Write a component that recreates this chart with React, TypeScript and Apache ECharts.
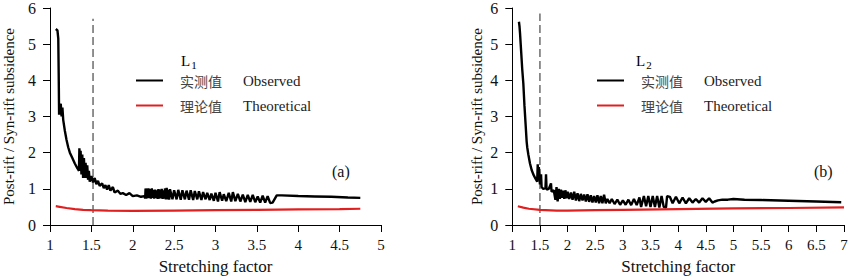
import React, { useEffect, useRef } from "react";
import * as echarts from "echarts";

// ---- data ----
const observedL1: [number, number][] = [
  [1.07, 5.42], [1.09, 5.38], [1.10, 5.15], [1.105, 4.2], [1.11, 3.05], [1.12, 3.3], [1.13, 3.35], [1.14, 3.0],
  [1.15, 3.25], [1.16, 2.9], [1.18, 2.6], [1.20, 2.35], [1.22, 2.15], [1.24, 2.0], [1.27, 1.85], [1.30, 1.7],
  [1.33, 1.57], [1.35, 1.5], [1.355, 2.12], [1.365, 1.75], [1.37, 2.05], [1.38, 1.4], [1.39, 1.95], [1.40, 1.3],
  [1.41, 1.85], [1.42, 1.3], [1.43, 1.72], [1.44, 1.3], [1.45, 1.65], [1.46, 1.25], [1.47, 1.5], [1.48, 1.2],
  [1.5, 1.35], [1.52, 1.18], [1.54, 1.3], [1.56, 1.13], [1.58, 1.22], [1.60, 1.08], [1.63, 1.15], [1.65, 1.02],
  [1.67, 1.1], [1.69, 0.98], [1.71, 1.1], [1.73, 0.95], [1.76, 1.05], [1.78, 0.9], [1.82, 0.95], [1.85, 0.86],
  [1.88, 0.88], [1.92, 0.83], [1.96, 0.88], [2.0, 0.8], [2.05, 0.82], [2.1, 0.78], [2.14, 0.8],
  [2.15, 0.74], [2.155, 1.01], [2.165, 0.73], [2.17, 1.01], [2.18, 0.75], [2.19, 1.01], [2.2, 0.74], [2.21, 0.99],
  [2.22, 0.73], [2.23, 1.01], [2.24, 0.75], [2.25, 0.97], [2.26, 0.73], [2.27, 0.98], [2.28, 0.75], [2.29, 0.96],
  [2.3, 0.72], [2.31, 0.99], [2.32, 0.73], [2.33, 0.98], [2.34, 0.74], [2.35, 1.0], [2.36, 0.72], [2.37, 0.96],
  [2.38, 0.73], [2.39, 1.01], [2.40, 0.71], [2.41, 1.03], [2.42, 0.71], [2.43, 0.97], [2.44, 0.7], [2.45, 0.99],
  [2.48, 0.71], [2.5, 0.96], [2.53, 0.71], [2.55, 0.97], [2.58, 0.7], [2.6, 0.96], [2.63, 0.71], [2.65, 0.95],
  [2.68, 0.7], [2.7, 0.96], [2.73, 0.69], [2.75, 0.94], [2.78, 0.71], [2.8, 0.93], [2.83, 0.69], [2.85, 0.91],
  [2.88, 0.71], [2.9, 0.89], [2.93, 0.69], [2.95, 0.87], [2.98, 0.67], [3.0, 0.89], [3.03, 0.65], [3.05, 0.91],
  [3.08, 0.67], [3.1, 0.85], [3.13, 0.66], [3.16, 0.89], [3.19, 0.65], [3.21, 0.91], [3.24, 0.66], [3.27, 0.86],
  [3.3, 0.65], [3.33, 0.84], [3.36, 0.63], [3.39, 0.83], [3.42, 0.64], [3.45, 0.83], [3.48, 0.63], [3.51, 0.79],
  [3.54, 0.62], [3.57, 0.81], [3.6, 0.62], [3.63, 0.8], [3.66, 0.61], [3.69, 0.62], [3.74, 0.82], [3.8, 0.82],
  [4.0, 0.8], [4.2, 0.79], [4.4, 0.78], [4.6, 0.76], [4.75, 0.75],
];
const theoreticalL1: [number, number][] = [
  [1.07, 0.52], [1.1, 0.51], [1.2, 0.47], [1.3, 0.44], [1.4, 0.42], [1.5, 0.41], [1.7, 0.4], [2.0, 0.39],
  [2.5, 0.4], [3.0, 0.41], [3.5, 0.42], [4.0, 0.43], [4.5, 0.44], [4.75, 0.45],
];
const observedL2: [number, number][] = [
  [1.12, 5.62], [1.13, 5.5], [1.14, 5.3], [1.16, 4.8], [1.18, 4.3], [1.2, 3.9], [1.22, 3.3], [1.24, 2.8],
  [1.26, 2.3], [1.27, 2.15], [1.29, 1.95], [1.32, 1.7], [1.35, 1.52], [1.38, 1.4], [1.42, 1.28], [1.45, 1.2],
  [1.46, 1.68], [1.47, 1.25], [1.48, 1.6], [1.5, 1.12], [1.52, 1.4], [1.53, 1.05], [1.56, 1.0], [1.6, 1.02],
  [1.61, 1.4], [1.62, 0.98], [1.66, 1.0], [1.7, 1.15], [1.71, 0.92], [1.75, 0.96], [1.78, 0.7], [1.8, 1.05],
  [1.82, 0.65], [1.84, 1.0], [1.86, 0.72], [1.88, 0.98], [1.9, 0.75], [1.92, 0.95], [1.94, 0.72], [1.96, 0.96],
  [1.98, 0.74], [2.0, 0.92], [2.03, 0.72], [2.06, 0.9], [2.09, 0.7], [2.12, 0.92], [2.15, 0.68], [2.18, 0.88],
  [2.21, 0.66], [2.24, 0.86], [2.27, 0.68], [2.3, 0.84], [2.33, 0.65], [2.36, 0.85], [2.39, 0.64], [2.42, 0.82],
  [2.45, 0.62], [2.48, 0.8], [2.51, 0.62], [2.54, 0.82], [2.57, 0.6], [2.6, 0.8], [2.63, 0.6], [2.66, 0.84],
  [2.69, 0.6], [2.72, 0.72], [2.76, 0.6], [2.8, 0.72], [2.85, 0.58], [2.9, 0.7], [2.95, 0.56], [3.0, 0.68],
  [3.05, 0.56], [3.1, 0.7], [3.15, 0.55], [3.2, 0.72], [3.25, 0.55], [3.3, 0.76], [3.33, 0.5], [3.38, 0.8],
  [3.42, 0.52], [3.46, 0.8], [3.5, 0.5], [3.54, 0.8], [3.58, 0.5], [3.62, 0.8], [3.66, 0.48], [3.7, 0.8],
  [3.74, 0.5], [3.78, 0.48], [3.8, 0.8], [3.85, 0.78], [3.9, 0.6], [3.96, 0.78], [4.02, 0.6], [4.08, 0.76],
  [4.14, 0.6], [4.2, 0.74], [4.26, 0.62], [4.32, 0.72], [4.38, 0.62], [4.44, 0.74], [4.5, 0.64], [4.56, 0.74],
  [4.62, 0.62], [4.66, 0.65], [4.72, 0.68], [4.8, 0.7], [4.9, 0.7], [5.0, 0.72], [5.2, 0.7], [5.5, 0.69],
  [6.0, 0.67], [6.5, 0.65], [6.95, 0.63],
];
const theoreticalL2: [number, number][] = [
  [1.1, 0.52], [1.2, 0.48], [1.3, 0.45], [1.5, 0.42], [1.8, 0.4], [2.0, 0.4], [2.5, 0.41], [3.0, 0.42],
  [4.0, 0.44], [5.0, 0.46], [6.0, 0.47], [7.0, 0.49],
];
const refLineL1: [number, number][] = [[1.52, 0], [1.52, 5.7]];
const refLineL2: [number, number][] = [[1.5, 0], [1.5, 5.85]];

const xRangeL1 = [1, 5];
const xRangeL2 = [1, 7];
const yRange = [0, 6];
const seriesNames = ["实测值", "理论值"];
const seriesEnglish = ["Observed", "Theoretical"];
const panelTags = ["(a)", "(b)"];
const xTitle = "Stretching factor";
const yTitle = "Post-rift / Syn-rift subsidence";

const SERIF = "Liberation Serif";
const CJK = "Noto Sans CJK SC";

export default function App() {
  const ref = useRef<HTMLDivElement>(null);
  useEffect(() => {
    if (!ref.current) return;
    const chart = echarts.init(ref.current, null, { renderer: "svg" });

    const xAxisBase = (range: number[], gi: number) => ({
      type: "value",
      gridIndex: gi,
      min: range[0],
      max: range[1],
      interval: 0.5,
      name: xTitle,
      nameLocation: "middle",
      nameGap: 33,
      nameTextStyle: { fontFamily: SERIF, fontSize: 17, color: "#111", verticalAlign: "top" },
      axisLine: { show: true, lineStyle: { color: "#000", width: 1 } },
      axisTick: { show: true, length: 7, lineStyle: { color: "#000" } },
      axisLabel: { fontFamily: SERIF, fontSize: 15, color: "#111", margin: 12, showMaxLabel: true },
      splitLine: { show: false },
    });
    const yAxisBase = (gi: number, gap: number) => ({
      type: "value",
      gridIndex: gi,
      min: yRange[0],
      max: yRange[1],
      interval: 1,
      name: yTitle,
      nameLocation: "middle",
      nameGap: gap,
      nameTextStyle: { fontFamily: SERIF, fontSize: 15, color: "#111" },
      axisLine: { show: true, lineStyle: { color: "#000", width: 1 } },
      axisTick: { show: true, length: 7, lineStyle: { color: "#000" } },
      axisLabel: { fontFamily: SERIF, fontSize: 16, color: "#111", margin: 14 },
      splitLine: { show: false },
    });

    const lineSeries = (name: string, data: any, gi: number, color: string, w: number) => ({
      type: "line",
      name,
      xAxisIndex: gi,
      yAxisIndex: gi,
      data,
      showSymbol: false,
      symbol: "none",
      lineStyle: { color, width: w },
      itemStyle: { color },
      emphasis: { disabled: true },
    });
    const dashSeries = (data: any, gi: number) => ({
      type: "line",
      name: "ref" + gi,
      xAxisIndex: gi,
      yAxisIndex: gi,
      data,
      showSymbol: false,
      symbol: "none",
      lineStyle: { color: "#555", width: 1.3, type: [8, 4] },
      emphasis: { disabled: true },
    });

    const legendFmt = (name: string) => {
      const i = seriesNames.indexOf(name);
      return `{c|${name}}{e|${seriesEnglish[i]}}`;
    };
    const legendBase = (left: number) => ({
      data: seriesNames,
      orient: "vertical",
      left,
      top: 73,
      padding: 0,
      itemWidth: 27,
      itemHeight: 2,
      itemGap: 10,
      icon: "rect",
      selectedMode: false,
      formatter: legendFmt,
      textStyle: {
        rich: {
          c: { fontFamily: CJK, fontSize: 14, color: "#444", width: 63, padding: [0, 0, 0, 12], height: 16 },
          e: { fontFamily: SERIF, fontSize: 15, color: "#222", height: 16 },
        },
      },
    });

    const tagText = (left: number, sub: string) => ({
      type: "text",
      left,
      top: 53,
      style: {
        text: `{a|L}{b|${sub}}`,
        rich: {
          a: { fontFamily: SERIF, fontSize: 15, color: "#333", verticalAlign: "bottom" },
          b: { fontFamily: SERIF, fontSize: 11, color: "#333", verticalAlign: "bottom", padding: [0, 0, -2, 1] },
        },
      },
    });

    chart.setOption({
      animation: false,
      grid: [
        { left: 48.3, top: 7.3, width: 332.7, height: 224.4, containLabel: false },
        { left: 512.3, top: 7.3, width: 331.7, height: 224.4, containLabel: false },
      ],
      xAxis: [xAxisBase(xRangeL1, 0), xAxisBase(xRangeL2, 1)],
      yAxis: [yAxisBase(0, 34), yAxisBase(1, 28)],
      legend: [legendBase(136), legendBase(597)],
      series: [
        dashSeries(refLineL1, 0),
        lineSeries(seriesNames[0], observedL1, 0, "#000", 2.4),
        lineSeries(seriesNames[1], theoreticalL1, 0, "#e02020", 2.2),
        dashSeries(refLineL2, 1),
        lineSeries(seriesNames[0], observedL2, 1, "#000", 2.4),
        lineSeries(seriesNames[1], theoreticalL2, 1, "#e02020", 2.2),
      ],
      graphic: [
        tagText(181, "1"),
        tagText(636, "2"),
        {
          type: "text",
          left: 332,
          top: 163,
          style: { text: panelTags[0], fontFamily: SERIF, fontSize: 16, fill: "#111" },
        },
        {
          type: "text",
          left: 814,
          top: 163,
          style: { text: panelTags[1], fontFamily: SERIF, fontSize: 16, fill: "#111" },
        },
      ],
    });
    return () => chart.dispose();
  }, []);
  return (
    <div
      ref={ref}
      style={{ position: "absolute", left: 0, top: 0, width: 853, height: 280, background: "#fff" }}
    />
  );
}
